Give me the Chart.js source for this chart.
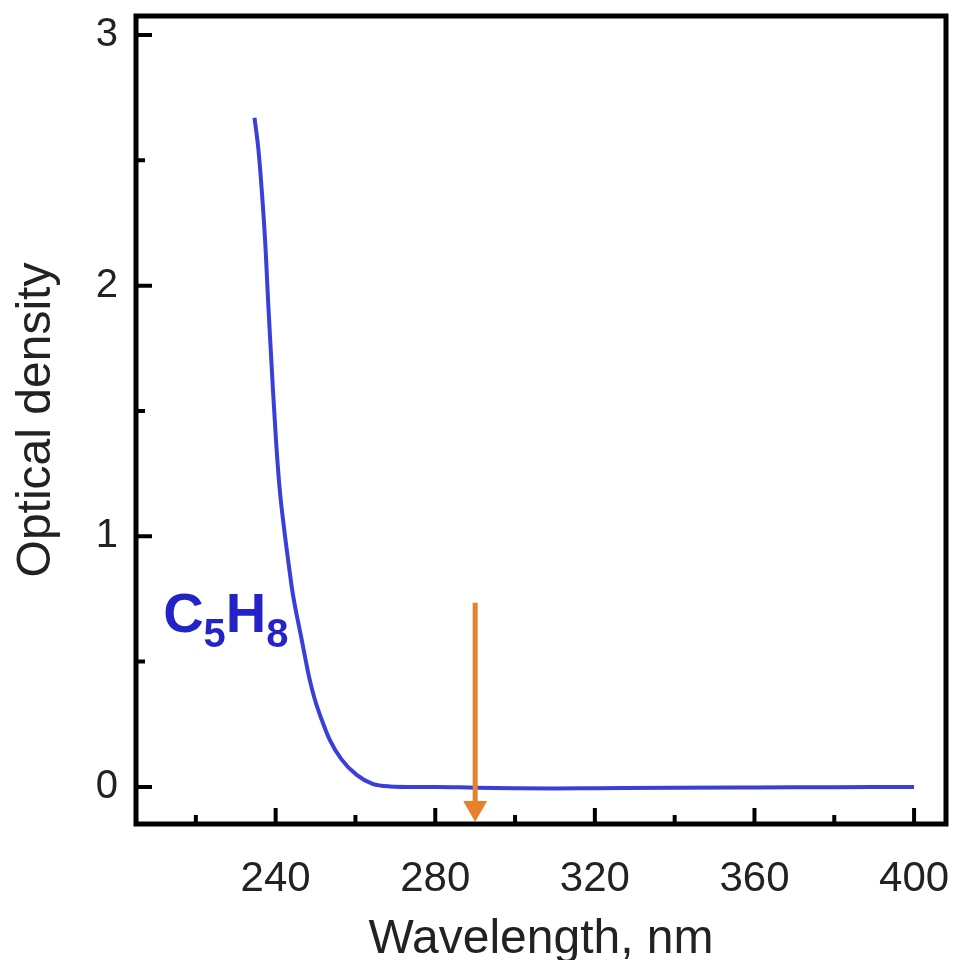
<!DOCTYPE html>
<html>
<head>
<meta charset="utf-8">
<script src="https://cdn.jsdelivr.net/npm/chart.js@4.4.1/dist/chart.umd.min.js"></script>
<style>
  html, body { margin: 0; padding: 0; background: #ffffff; overflow: hidden; }
  canvas { display: block; }
</style>
</head>
<body>
<canvas id="c" width="955" height="960"></canvas>
<script>
// ---- data ----
const wavelength = [234.7, 235.7, 236.7, 237.5, 238.1, 238.75, 239.3, 240.1, 241.0, 242.2, 243.5, 244.3, 246.5, 248.5, 249.8, 251.5, 253.5, 256.5, 260.3, 264.3, 268.6, 275.0, 280.0, 290.0, 300.0, 310.0, 320.0, 340.0, 360.0, 380.0, 400.0];
const opticalDensity = [2.67, 2.54, 2.34, 2.14, 1.94, 1.75, 1.59, 1.38, 1.19, 1.02, 0.86, 0.77, 0.59, 0.43, 0.35, 0.27, 0.19, 0.11, 0.048, 0.012, 0.002, 0.0, 0.0, -0.003, -0.005, -0.006, -0.005, -0.003, -0.002, -0.001, 0.0];
const arrowWavelength = [290, 290];
const arrowOD = [0.735, -0.06];
const arrowHeadOD = [-0.084];
const xMajorTicks = [240, 280, 320, 360, 400];
const xMinorTicks = [220, 260, 300, 340, 380];
const yMajorTicks = [0, 1, 2, 3];
const yMinorTicks = [0.5, 1.5, 2.5];
const seriesLabel = 'C5H8';

const FONT = "'Liberation Sans', Arial, sans-serif";

const framePlugin = {
  id: 'framePlugin',
  afterDatasetsDraw(chart) {
    const {ctx, chartArea: a, scales: {x, y}} = chart;
    ctx.save();
    ctx.strokeStyle = '#000';
    ctx.lineCap = 'butt';
    // inward tick marks
    ctx.lineWidth = 4;
    ctx.beginPath();
    xMajorTicks.forEach(v => { const px = x.getPixelForValue(v); ctx.moveTo(px, a.bottom); ctx.lineTo(px, a.bottom - 16); });
    xMinorTicks.forEach(v => { const px = x.getPixelForValue(v); ctx.moveTo(px, a.bottom); ctx.lineTo(px, a.bottom - 9); });
    yMajorTicks.forEach(v => { const py = y.getPixelForValue(v); ctx.moveTo(a.left, py); ctx.lineTo(a.left + 16, py); });
    yMinorTicks.forEach(v => { const py = y.getPixelForValue(v); ctx.moveTo(a.left, py); ctx.lineTo(a.left + 9, py); });
    ctx.stroke();
    // frame
    ctx.lineWidth = 5;
    ctx.strokeRect(a.left, a.top, a.right - a.left, a.bottom - a.top);
    // series label C5H8 with subscripts
    const lx = x.getPixelForValue(211.8);
    const ly = y.getPixelForValue(0.62);
    ctx.fillStyle = '#2323c8';
    ctx.textBaseline = 'alphabetic';
    ctx.textAlign = 'left';
    const big = "bold 56px " + FONT, small = "bold 40px " + FONT;
    let cx = lx;
    const parts = [['C', big, 0], ['5', small, 15], ['H', big, 0], ['8', small, 15]];
    parts.forEach(([t, f, dy]) => { ctx.font = f; ctx.fillText(t, cx, ly + dy); cx += ctx.measureText(t).width; });
    ctx.restore();
  }
};

new Chart(document.getElementById('c'), {
  type: 'scatter',
  data: {
    datasets: [
      {
        label: seriesLabel,
        data: wavelength.map((w, i) => ({x: w, y: opticalDensity[i]})),
        showLine: true,
        borderColor: '#3a3fd8',
        borderWidth: 4,
        pointRadius: 0,
        cubicInterpolationMode: 'monotone',
        order: 2
      },
      {
        label: 'arrow',
        data: arrowWavelength.map((w, i) => ({x: w, y: arrowOD[i]})),
        showLine: true,
        borderColor: '#e8812c',
        borderWidth: 5,
        pointRadius: 0,
        order: 1
      },
      {
        label: 'arrowhead',
        data: arrowHeadOD.map(v => ({x: arrowWavelength[0], y: v})),
        pointStyle: 'triangle',
        rotation: 180,
        pointRadius: 13,
        backgroundColor: '#e8812c',
        borderColor: '#e8812c',
        borderWidth: 1,
        order: 0
      }
    ]
  },
  options: {
    responsive: false,
    animation: false,
    layout: { autoPadding: false, padding: { top: 16, right: 9, left: 0, bottom: 0 } },
    plugins: { legend: { display: false }, tooltip: { enabled: false } },
    scales: {
      x: {
        type: 'linear',
        min: 205, max: 408,
        afterBuildTicks: s => { s.ticks = xMajorTicks.map(v => ({value: v})); },
        afterFit: s => { s.height = 136; s.paddingLeft = 0; s.paddingRight = 0; },
        grid: { display: false, drawTicks: false },
        border: { display: false },
        ticks: { color: '#222', font: { family: FONT, size: 42 }, padding: 30, maxRotation: 0 },
        title: { display: true, text: 'Wavelength, nm', color: '#222', font: { family: FONT, size: 48 }, padding: { top: 0, bottom: -9 } }
      },
      y: {
        type: 'linear',
        min: -0.148, max: 3.076,
        afterBuildTicks: s => { s.ticks = yMajorTicks.map(v => ({value: v})); },
        afterFit: s => { s.width = 136; s.paddingTop = 0; s.paddingBottom = 0; },
        grid: { display: false, drawTicks: false },
        border: { display: false },
        ticks: { color: '#222', font: { family: FONT, size: 40 }, padding: 18 },
        title: { display: true, text: 'Optical density', color: '#222', font: { family: FONT, size: 48 }, padding: { top: 8, bottom: 0 } }
      }
    }
  },
  plugins: [framePlugin]
});
</script>
</body>
</html>
